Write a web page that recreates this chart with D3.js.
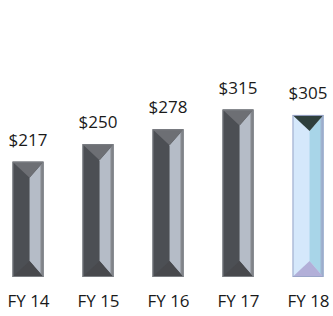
<!DOCTYPE html>
<html>
<head>
<meta charset="utf-8">
<script src="https://cdn.jsdelivr.net/npm/d3@7"></script>
<style>
  body { margin: 0; background: #fff; }
  text { font-family: "Open Sans", "Noto Sans", sans-serif; fill: #1a1a1a; }
</style>
</head>
<body>
<div id="chart"></div>
<script>
// data
const years = ["FY 14", "FY 15", "FY 16", "FY 17", "FY 18"];
const revenue = [217, 250, 278, 315, 305];
const valueLabels = ["$217", "$250", "$278", "$315", "$305"];

const W = 333, H = 316;
const barW = 31, bevel = 16;

const svg = d3.select("#chart").append("svg")
  .attr("width", W)
  .attr("height", H);

const x = d3.scalePoint().domain(years).range([28, 308]);
const y = d3.scaleLinear().domain([0, 350]).range([277, 91]);

// facet colours: normal bars and the highlighted last year
const dark = {left: "#4c4f54", right: "#b5bcc7", top: "#6d6f74", bottom: "#48494d", edge: "#85888d", stroke: "#7b7e83"};
const light = {left: "#d5e8fb", right: "#a8d5e8", top: "#2f403d", bottom: "#b2afd8", edge: "#9fb3cf", stroke: "#9aa5c8"};

const data = years.map((d, i) => ({year: d, value: revenue[i], label: valueLabels[i], pal: i == years.length - 1 ? light : dark}));

const bars = svg.selectAll("g.bar").data(data).enter().append("g").attr("class", "bar");

function pts(arr) {
  return arr.map(p => p.join(",")).join(" ");
}

bars.each(function(d) {
  const g = d3.select(this);
  const x0 = x(d.year) - barW / 2, x1 = x0 + barW;
  const y0 = y(d.value), y1 = y(0);
  const xm = x0 + barW * 0.55;
  const p = d.pal;
  // left facet (whole bar)
  g.append("rect").attr("x", x0).attr("y", y0).attr("width", barW).attr("height", y1 - y0)
    .attr("fill", p.left);
  // right facet
  g.append("polygon").attr("points", pts([[xm, y0 + bevel], [x1, y0], [x1, y1], [xm, y1 - bevel]]))
    .attr("fill", p.right);
  // right edge strip
  g.append("polygon").attr("points", pts([[x1 - 3, y0 + 3], [x1, y0], [x1, y1], [x1 - 3, y1 - 3]]))
    .attr("fill", p.edge);
  // top facet
  g.append("polygon").attr("points", pts([[x0, y0], [x1, y0], [xm, y0 + bevel]]))
    .attr("fill", p.top);
  // bottom facet
  g.append("polygon").attr("points", pts([[x0, y1], [x1, y1], [xm, y1 - bevel]]))
    .attr("fill", p.bottom);
  // outline
  g.append("rect").attr("x", x0 + 0.5).attr("y", y0 + 0.5).attr("width", barW - 1).attr("height", y1 - y0 - 1)
    .attr("fill", "none").attr("stroke", p.stroke).attr("stroke-width", 1);
});

// value labels
svg.selectAll("text.value").data(data).enter().append("text")
  .attr("class", "value")
  .attr("x", d => x(d.year))
  .attr("y", d => y(d.value) - 16)
  .attr("text-anchor", "middle")
  .style("font-size", "17px")
  .text(d => d.label);

// category axis, no line or ticks
const axis = svg.append("g")
  .attr("transform", `translate(0,${y(0)})`)
  .call(d3.axisBottom(x).tickSize(0).tickPadding(18));
axis.select(".domain").remove();
axis.selectAll("text")
  .style("font-size", "17px")
  .style("font-family", "'Open Sans', 'Noto Sans', sans-serif")
  .attr("fill", "#1a1a1a");
</script>
</body>
</html>
